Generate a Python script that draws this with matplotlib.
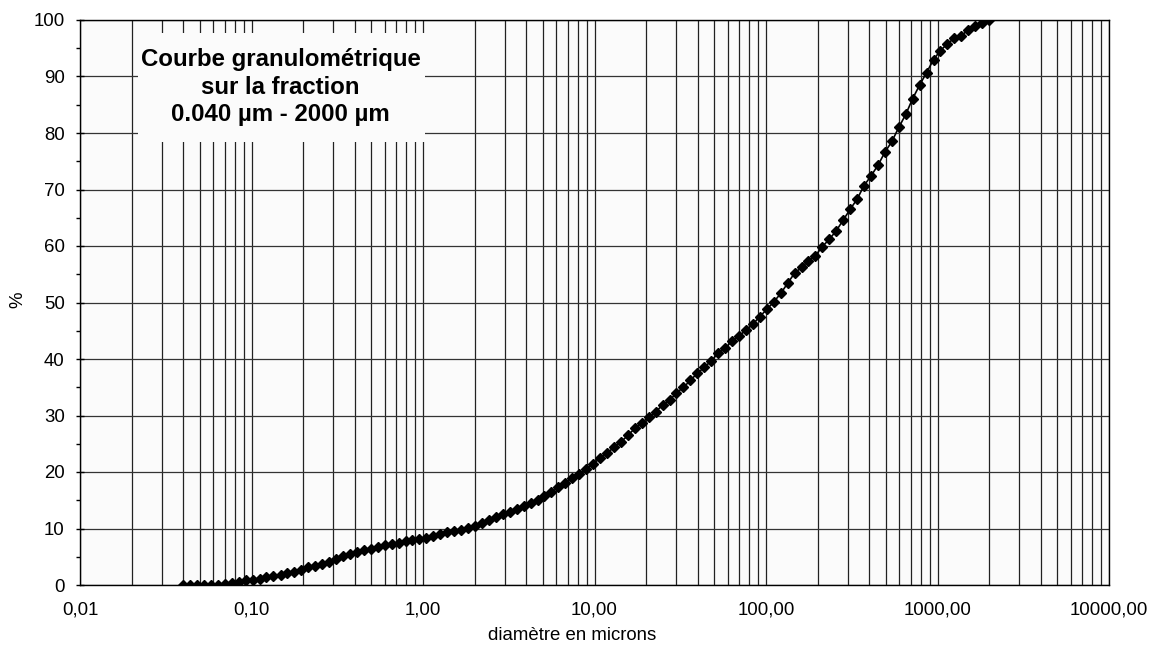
import matplotlib
matplotlib.use("Agg")
import matplotlib.pyplot as plt
from matplotlib.ticker import FixedLocator, FixedFormatter, LogLocator, NullFormatter
from matplotlib.patches import Rectangle

plt.rcParams['font.family'] = ['Liberation Sans', 'DejaVu Sans']

# Channel diameters (µm)
diametres = [
    0.04, 0.044, 0.048, 0.053, 0.058, 0.064, 0.07, 0.077, 0.084, 0.093,
    0.102, 0.112, 0.122, 0.134, 0.148, 0.162, 0.178, 0.195, 0.214, 0.235,
    0.258, 0.284, 0.311, 0.342, 0.375, 0.412, 0.452, 0.496, 0.545, 0.598,
    0.656, 0.721, 0.791, 0.868, 0.953, 1.047, 1.149, 1.261, 1.385, 1.520,
    1.668, 1.832, 2.011, 2.207, 2.423, 2.660, 2.920, 3.205, 3.519, 3.863,
    4.240, 4.655, 5.110, 5.610, 6.158, 6.760, 7.421, 8.147, 8.943, 9.818,
    10.78, 11.83, 12.99, 14.26, 15.65, 17.18, 18.86, 20.71, 22.73, 24.95,
    27.39, 30.07, 33.01, 36.24, 39.78, 43.67, 47.94, 52.62, 57.77, 63.41,
    69.61, 76.42, 83.89, 92.09, 101.1, 111.0, 121.8, 133.7, 146.8, 161.2,
    176.8, 194.2, 213.2, 234.0, 256.9, 282.1, 309.6, 339.9, 373.1, 409.6,
    449.7, 493.6, 541.9, 594.9, 653.0, 716.9, 786.9, 863.9, 948.3, 1041,
    1143, 1255, 1377, 1512, 1660, 1822, 2000,
]

# Cumulative % passing
cumul = [
    0, 0, 0, 0, 0, 0, 0.1, 0.4, 0.6, 0.8,
    0.9, 1.1, 1.4, 1.6, 1.8, 2.1, 2.3, 2.7, 3.1, 3.4,
    3.7, 4.1, 4.6, 5.1, 5.5, 5.9, 6.2, 6.4, 6.7, 7.0,
    7.3, 7.5, 7.7, 8.0, 8.2, 8.4, 8.7, 9.0, 9.3, 9.5,
    9.7, 10.1, 10.4, 10.9, 11.5, 12.1, 12.6, 13.0, 13.4, 13.9,
    14.5, 15.0, 15.8, 16.4, 17.3, 18.0, 18.9, 19.6, 20.5, 21.5,
    22.4, 23.3, 24.4, 25.3, 26.5, 27.7, 28.7, 29.7, 30.6, 31.9,
    32.7, 34.0, 35.0, 36.2, 37.5, 38.5, 39.7, 41.0, 41.9, 43.2,
    44.1, 45.1, 46.2, 47.5, 48.8, 50.1, 51.6, 53.4, 55.2, 56.2,
    57.4, 58.3, 59.9, 61.2, 62.7, 64.6, 66.5, 68.3, 70.7, 72.4,
    74.3, 76.6, 78.5, 81.0, 83.3, 86.1, 88.5, 90.7, 93.0, 94.6,
    95.8, 96.8, 97.2, 98.3, 98.9, 99.5, 100.0,
]

x_ticks = [0.01, 0.1, 1, 10, 100, 1000, 10000]
x_labels = ["0,01", "0,10", "1,00", "10,00", "100,00", "1000,00", "10000,00"]
y_ticks = [0, 10, 20, 30, 40, 50, 60, 70, 80, 90, 100]

W, H = 1157, 646
fig = plt.figure(figsize=(W / 100, H / 100), dpi=100)
ax = fig.add_axes([80 / W, 1 - 585 / H, 1029 / W, 565 / H])
ax.set_facecolor('#fbfbfb')

ax.plot(diametres, cumul, color='black', lw=1.2, marker='D', ms=5.5,
        markerfacecolor='black', markeredgecolor='black', zorder=3)

ax.set_xscale('log')
ax.set_xlim(0.01, 10000)
ax.set_ylim(0, 100)

ax.xaxis.set_major_locator(FixedLocator(x_ticks))
ax.xaxis.set_major_formatter(FixedFormatter(x_labels))
ax.xaxis.set_minor_locator(LogLocator(base=10, subs=[2, 3, 4, 5, 6, 7, 8, 9], numticks=20))
ax.xaxis.set_minor_formatter(NullFormatter())
ax.set_yticks(y_ticks)
ax.set_yticks(range(5, 100, 10), minor=True)

ax.tick_params(axis='x', which='both', length=0, pad=12, labelsize=13.4)
ax.tick_params(axis='y', which='major', direction='inout', length=6, width=1,
               pad=8, labelsize=13.4)
ax.tick_params(axis='y', which='minor', direction='out', length=3, width=1)

ax.set_axisbelow(True)
ax.grid(True, axis='x', which='both', color='#222222', lw=0.9)
ax.grid(True, axis='y', which='major', color='#333333', lw=0.9)
for s in ax.spines.values():
    s.set_color('black')
    s.set_linewidth(1.0)

# Title box
ax.add_patch(Rectangle((0.056, 0.784), 0.279, 0.193, transform=ax.transAxes,
                       facecolor='#fbfbfb', edgecolor='none', zorder=2))
ax.text(0.195, 0.881, "Courbe granulométrique\nsur la fraction\n0.040 µm - 2000 µm",
        transform=ax.transAxes, ha='center', va='center', fontsize=17.3,
        fontweight='bold', linespacing=1.25, zorder=4)

fig.text(572 / W, 1 - 636 / H, "diamètre en microns", ha='center', va='center', fontsize=13.4)
fig.text(18 / W, 1 - 300 / H, "%", ha='center', va='center', rotation=90, fontsize=13.4)

fig.savefig("out.png", dpi=100, facecolor='white')
